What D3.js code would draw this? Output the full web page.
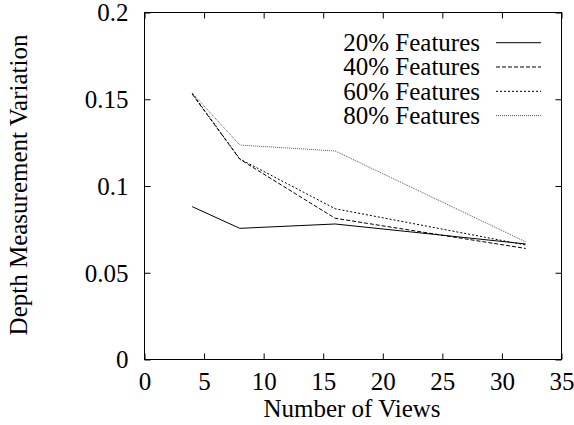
<!DOCTYPE html>
<html><head><meta charset="utf-8">
<script src="https://cdn.jsdelivr.net/npm/d3@7"></script>
<style>body{margin:0;background:#fff}</style>
</head><body><svg id="c" width="574" height="425"></svg>
<script>
const views = [4, 8, 16, 32];
const seriesNames = ["20% Features", "40% Features", "60% Features", "80% Features"];
const f20 = [0.0881, 0.0756, 0.0781, 0.0666];
const f40 = [0.1530, 0.1154, 0.0814, 0.0640];
const f60 = [0.1534, 0.1156, 0.0869, 0.0660];
const f80 = [0.1536, 0.1236, 0.1202, 0.0678];
const xTicks = [0, 5, 10, 15, 20, 25, 30, 35];
const yTicks = [0, 0.05, 0.1, 0.15, 0.2];
const yTickLabels = ["0", "0.05", "0.1", "0.15", "0.2"];

const styles = [
  {dash: null, color: "#000"},
  {dash: "4,2", color: "#000"},
  {dash: "2,2", color: "#000"},
  {dash: "1,1", color: "#555"}
];
const data = [f20, f40, f60, f80];

const FONT = "Liberation Serif";
const fs = 25;
const L = 144.5, R = 561.5, T = 12.5, B = 359.5;
const svg = d3.select("#c");
const x = d3.scaleLinear().domain([0, 35]).range([L, R]);
const y = d3.scaleLinear().domain([0, 0.2]).range([B, T]);

svg.append("rect").attr("x", L).attr("y", T).attr("width", R - L).attr("height", B - T)
  .attr("fill", "none").attr("stroke", "#000").attr("stroke-width", 1);

const xb = svg.append("g").attr("transform", `translate(0,${B})`)
  .call(d3.axisBottom(x).tickValues(xTicks).tickSize(-6).tickPadding(0).tickFormat(d3.format("d")));
const xt = svg.append("g").attr("transform", `translate(0,${T})`)
  .call(d3.axisTop(x).tickValues(xTicks).tickSize(-6).tickFormat(""));
const yl = svg.append("g").attr("transform", `translate(${L},0)`)
  .call(d3.axisLeft(y).tickValues(yTicks).tickSize(-6).tickPadding(0).tickFormat((d, i) => yTickLabels[i]));
const yr = svg.append("g").attr("transform", `translate(${R},0)`)
  .call(d3.axisRight(y).tickValues(yTicks).tickSize(-6).tickFormat(""));
[xb, xt, yl, yr].forEach(g => {
  g.select(".domain").remove();
  g.selectAll(".tick line").attr("stroke", "#000");
});
xb.selectAll(".tick text").attr("y", 0).attr("dy", null).attr("transform", "translate(0,30)")
  .style("font-family", FONT).style("font-size", fs + "px").attr("fill", "#000");
yl.selectAll(".tick text").attr("x", -16).attr("dy", "0.33em")
  .style("font-family", FONT).style("font-size", fs + "px").attr("fill", "#000");

svg.append("text").attr("x", 352).attr("y", 417).attr("text-anchor", "middle")
  .style("font-family", FONT).style("font-size", fs + "px").attr("fill", "#000").text("Number of Views");
svg.append("text").attr("transform", `translate(27,185) rotate(-90)`)
  .attr("text-anchor", "middle").style("font-family", FONT).style("font-size", fs + "px")
  .attr("fill", "#000").text("Depth Measurement Variation");

const line = d3.line().x((d, i) => x(views[i])).y(d => y(d));
data.forEach((s, k) => {
  svg.append("path").datum(s).attr("d", line).attr("fill", "none")
    .attr("stroke", styles[k].color).attr("stroke-width", 1)
    .attr("stroke-dasharray", styles[k].dash);
});

const lb0 = 51, lstep = 24.3;
seriesNames.forEach((n, k) => {
  const yb = lb0 + k * lstep;
  svg.append("text").attr("x", 480).attr("y", yb).attr("text-anchor", "end")
    .style("font-family", FONT).style("font-size", fs + "px").attr("fill", "#000").text(n);
  svg.append("line").attr("x1", 496).attr("x2", 541).attr("y1", yb - 8.3).attr("y2", yb - 8.3)
    .attr("stroke", styles[k].color).attr("stroke-width", 1)
    .attr("stroke-dasharray", styles[k].dash);
});
</script></body></html>
